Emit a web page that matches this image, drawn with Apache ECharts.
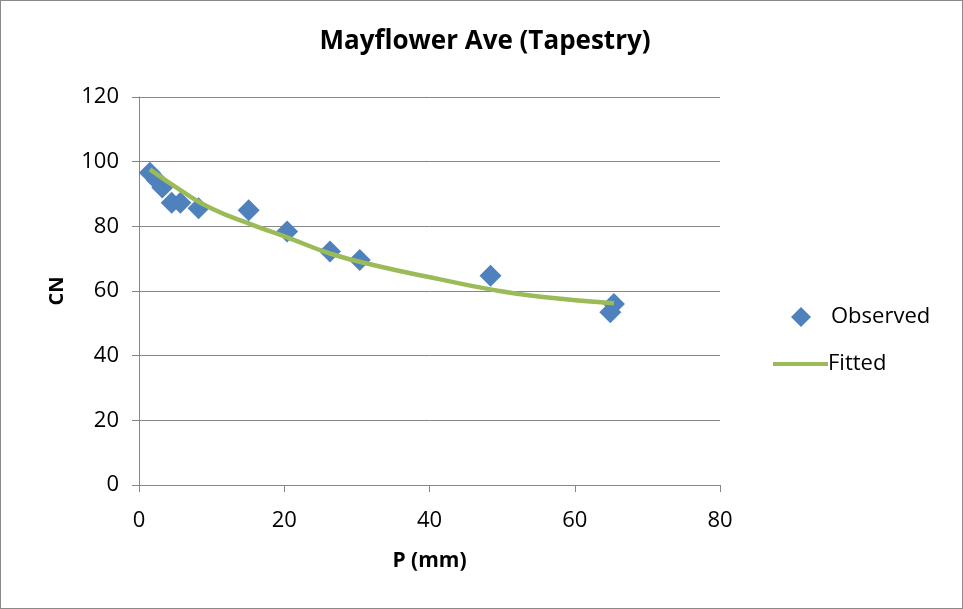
<!DOCTYPE html>
<html>
<head>
<meta charset="utf-8">
<script src="https://cdn.jsdelivr.net/npm/echarts@6/dist/echarts.min.js"></script>
<style>
  html, body { margin: 0; padding: 0; background: #fff; }
  #chart { width: 961px; height: 607px; border: 1px solid #8a8a8a; }
</style>
</head>
<body>
<div id="chart"></div>
<script>
// observed points (P mm, CN)
var obsP  = [1.5, 2.5, 3.2, 4.5, 5.7, 8.2, 15.1, 20.4, 26.3, 30.4, 48.4, 65.4, 64.9];
var obsCN = [96.6, 94.2, 92.0, 87.3, 87.3, 85.6, 85.0, 78.4, 72.2, 69.6, 64.7, 56.0, 53.4];
// fitted curve
var fitP  = [1.5, 5.7, 10, 15.7, 20.4, 26.3, 32.7, 41.5, 48.4, 55.3, 65.4];
var fitCN = [97.6, 91.2, 85.5, 80.4, 76.6, 71.6, 67.8, 63.6, 60.5, 58.2, 56.2];

var font = 'Open Sans, Noto Sans, sans-serif';

function pairs(a, b) {
  var out = [];
  for (var i = 0; i < a.length; i++) out.push([a[i], b[i]]);
  return out;
}

var myChart = echarts.init(document.getElementById('chart'));
var option = {
  animation: false,
  title: {
    text: 'Mayflower Ave (Tapestry)',
    left: 479,
    textAlign: 'center',
    top: 23,
    textStyle: { fontFamily: font, fontSize: 26, fontWeight: 'bold', color: '#000' }
  },
  grid: { left: 138, right: 242, top: 96, bottom: 123 },
  legend: [
    {
      orient: 'vertical',
      left: 785,
      top: 300,
      itemWidth: 20,
      itemHeight: 20,
      icon: 'diamond',
      textStyle: { fontFamily: font, fontSize: 22, color: '#000', padding: [0, 0, 0, 15] },
      data: ['Observed']
    },
    {
      orient: 'vertical',
      left: 767,
      top: 347,
      itemWidth: 55,
      itemHeight: 4,
      icon: 'rect',
      textStyle: { fontFamily: font, fontSize: 22, color: '#000', padding: [0, 0, 0, -5] },
      data: ['Fitted']
    }
  ],
  xAxis: {
    type: 'value',
    min: 0, max: 80, interval: 20,
    name: 'P (mm)',
    nameLocation: 'middle',
    nameGap: 66,
    nameTextStyle: { fontFamily: font, fontSize: 21, fontWeight: 'bold', color: '#000' },
    axisLine: { show: true, lineStyle: { color: '#868686' } },
    axisTick: { show: true, length: 7, lineStyle: { color: '#868686' } },
    axisLabel: { fontFamily: font, fontSize: 22, color: '#000', margin: 25 },
    splitLine: { show: false }
  },
  yAxis: {
    type: 'value',
    min: 0, max: 120, interval: 20,
    name: 'CN',
    nameLocation: 'middle',
    nameGap: 72,
    nameRotate: 90,
    nameTextStyle: { fontFamily: font, fontSize: 20, fontWeight: 'bold', color: '#000' },
    axisLine: { show: true, lineStyle: { color: '#868686' } },
    axisTick: { show: true, length: 7, lineStyle: { color: '#868686' } },
    axisLabel: { fontFamily: font, fontSize: 22, color: '#000', margin: 20 },
    splitLine: { show: true, lineStyle: { color: '#868686' } }
  },
  series: [
    {
      name: 'Observed',
      type: 'scatter',
      symbol: 'diamond',
      symbolSize: 22,
      itemStyle: { color: '#4F81BD', opacity: 1 },
      data: pairs(obsP, obsCN),
      z: 2
    },
    {
      name: 'Fitted',
      type: 'line',
      smooth: true,
      showSymbol: false,
      symbol: 'none',
      lineStyle: { color: '#9BBB59', width: 4.5 },
      itemStyle: { color: '#9BBB59' },
      data: pairs(fitP, fitCN),
      z: 3
    }
  ]
};
myChart.setOption(option);
</script>
</body>
</html>
